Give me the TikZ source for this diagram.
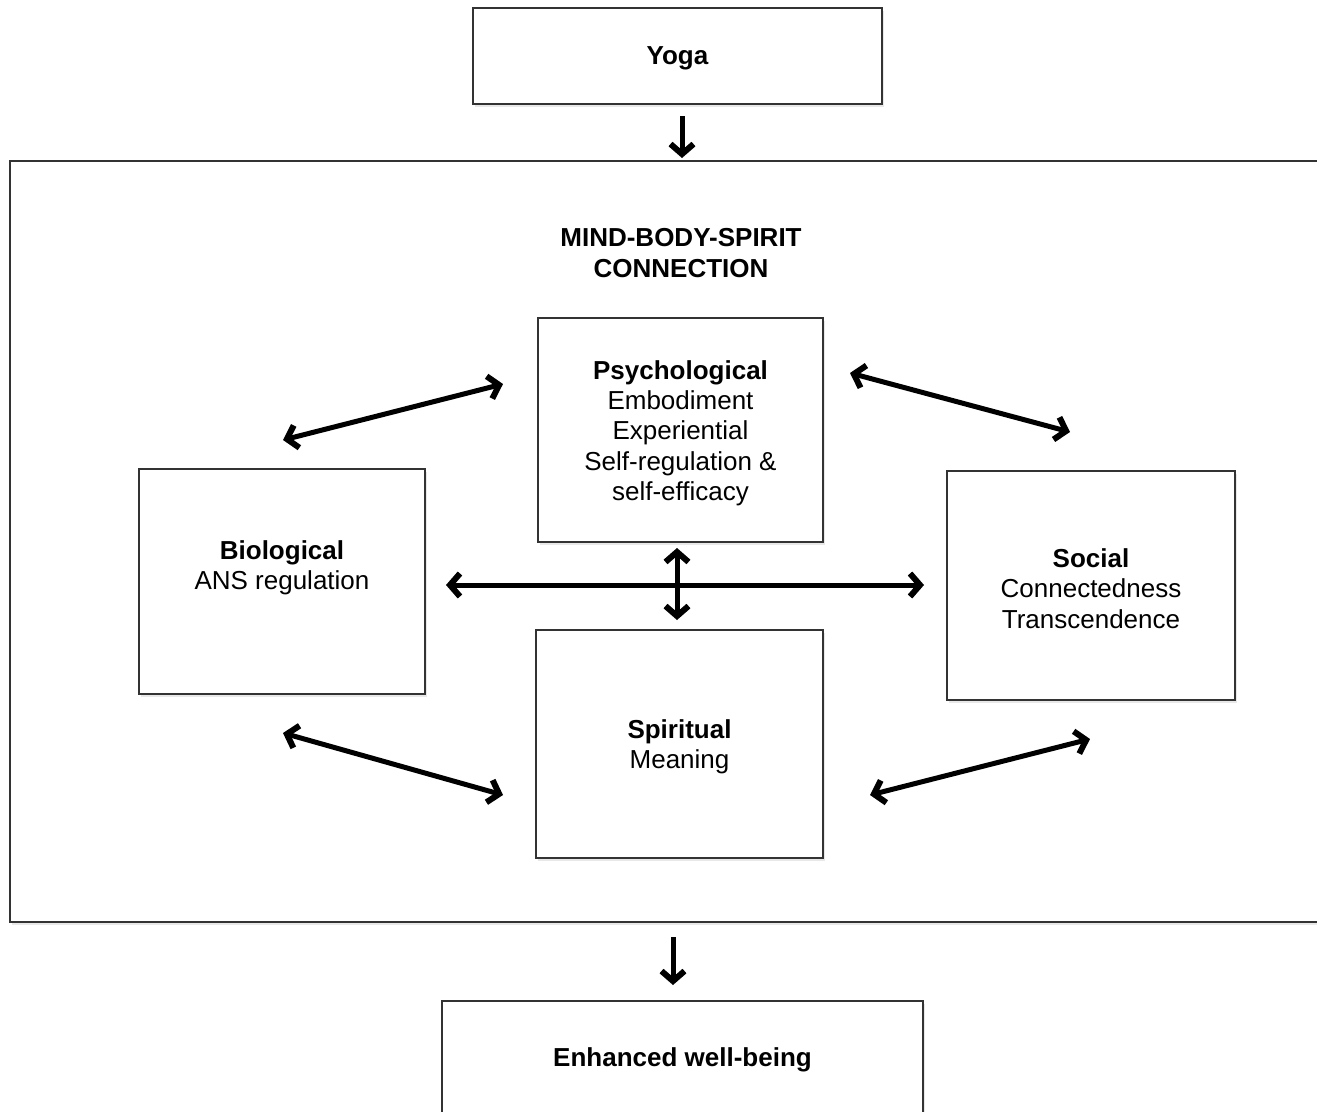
\documentclass[tikz,border=0pt]{standalone}
\usepackage{fontspec}
\setmainfont{Liberation Sans}
\usetikzlibrary{arrows.meta,shadows}
\begin{document}
\begin{tikzpicture}[x=1pt,y=-1pt,
  >={Straight Barb[length=10pt,width=23pt,line width=6pt]},
  box/.style={draw=black!80,line width=2pt,fill=white,inner sep=0pt,
    drop shadow={opacity=0.18,shadow xshift=2pt,shadow yshift=-3pt}},
  txt/.style={align=center,inner sep=0pt,font=\fontsize{26}{30.3}\selectfont},
  ttl/.style={txt,font=\fontsize{26}{30.3}\selectfont\bfseries},
  dbl/.style={line width=5pt,<->},
  one/.style={line width=5pt,->}
]
\useasboundingbox (0,0) rectangle (1317,1111);
\fill[white] (0,0) rectangle (1317,1111);

\node[box,minimum width=1322pt,minimum height=761pt] (frame) at (671,541.5) {};
\node[box,minimum width=409pt,minimum height=96pt] (yoga) at (677.5,56) {};
\node[box,minimum width=285pt,minimum height=224pt] (psy) at (680.5,430) {};
\node[box,minimum width=286pt,minimum height=225pt] (bio) at (282,581.5) {};
\node[box,minimum width=288pt,minimum height=229pt] (soc) at (1091,585.5) {};
\node[box,minimum width=287pt,minimum height=228pt] (spi) at (679.5,744) {};
\node[box,minimum width=481pt,minimum height=114pt] (well) at (682.5,1058) {};

\node[ttl] (yogat) at ([yshift=-2pt]yoga.center) {\strut Yoga};
\node[ttl] (title) at (681,253) {MIND-BODY-SPIRIT\\CONNECTION};
\node[txt] (psyt) at ([yshift=-3pt]psy.center)
  {\textbf{Psychological}\\Embodiment\\Experiential\\Self-regulation \&\\self-efficacy};
\node[txt] (biot) at ([yshift=-3pt]bio.center)
  {\textbf{Biological}\\ANS regulation\\\strut};
\node[txt] (soct) at ([yshift=-3pt]soc.center)
  {\textbf{Social}\\Connectedness\\Transcendence};
\node[txt] (spit) at ([yshift=-3pt]spi.center)
  {\textbf{Spiritual}\\Meaning};
\node[ttl] (wellt) at ([yshift=-2pt]well.center) {\strut Enhanced well-being};

\coordinate (y1) at (682,116);
\coordinate (y2) at (682,158);
\coordinate (w1) at (673,937);
\coordinate (w2) at (673,985);
\coordinate (ul1) at (283,440);
\coordinate (ul2) at (503,384);
\coordinate (ur1) at (850,373);
\coordinate (ur2) at (1070,432);
\coordinate (ll1) at (283,733);
\coordinate (ll2) at (503,795);
\coordinate (lr1) at (870,795);
\coordinate (lr2) at (1090,739);
\coordinate (h1) at (446,585);
\coordinate (h2) at (924,585);
\coordinate (v1) at (677,548);
\coordinate (v2) at (677,620);

\draw[one] (y1) -- (y2);
\draw[one] (w1) -- (w2);
\draw[dbl] (ul1) -- (ul2);
\draw[dbl] (ur1) -- (ur2);
\draw[dbl] (ll1) -- (ll2);
\draw[dbl] (lr1) -- (lr2);
\draw[dbl] (h1) -- (h2);
\draw[dbl] (v1) -- (v2);
\end{tikzpicture}
\end{document}
